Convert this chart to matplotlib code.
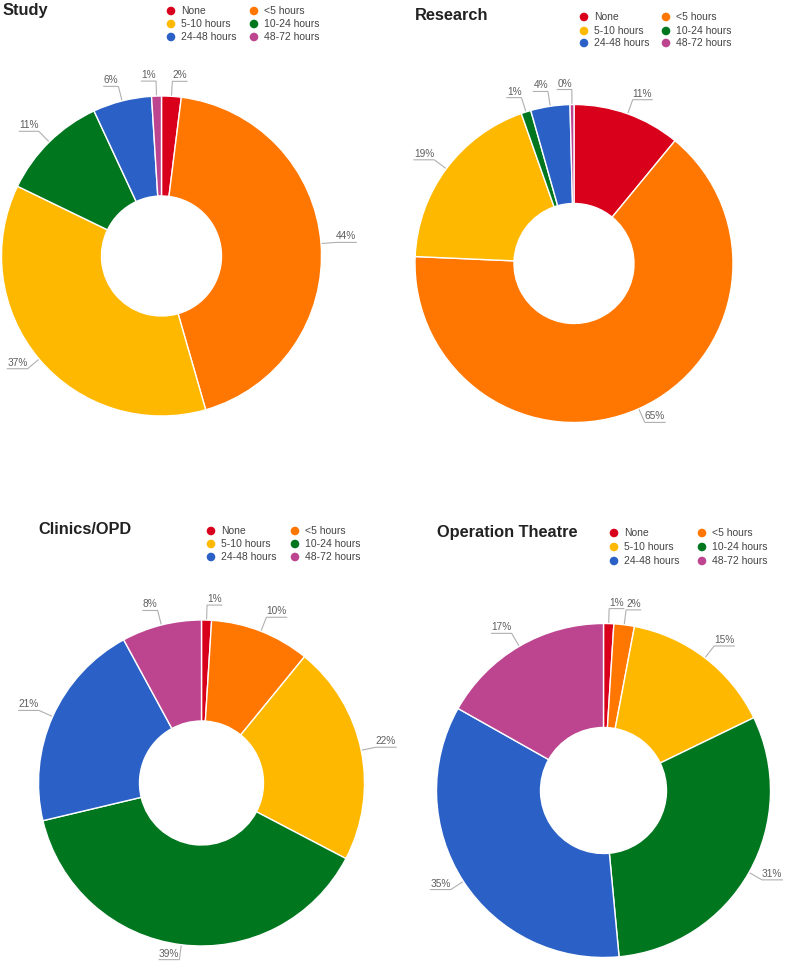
import matplotlib
matplotlib.use("Agg")
import matplotlib.pyplot as plt
import numpy as np

categories = ["None", "<5 hours", "5-10 hours", "10-24 hours", "24-48 hours", "48-72 hours"]
colors = ["#d9001b", "#ff7600", "#ffb800", "#00761f", "#2b61c6", "#bd4590"]

titles = ["Study", "Research", "Clinics/OPD", "Operation Theatre"]
study = [2, 44, 37, 11, 6, 1]
research = [11, 65, 19, 1, 4, 0.4]
clinics = [1, 10, 22, 39, 21, 8]
theatre = [1, 2, 15, 31, 35, 17]
series = [study, research, clinics, theatre]

W, H = 790, 965
plt.rcParams['font.family'] = ['Liberation Sans', 'DejaVu Sans']

fig = plt.figure(figsize=(W / 100, H / 100), dpi=100)
ax = fig.add_axes([0, 0, 1, 1])


def Y(y):
    return H - y

# layout per panel (pixel coords, y from top)
layouts = [
    dict(c=(161.5, 256), r=160, hole=60, title=(3, 11),
         lx=(171, 254), ly=(11, 24, 37)),
    dict(c=(574, 263.5), r=159, hole=60, title=(415, 16),
         lx=(584, 666), ly=(17, 31, 43)),
    dict(c=(201.5, 783), r=163, hole=62, title=(38, 529),
         lx=(211, 295), ly=(531, 544, 557)),
    dict(c=(603.5, 790.5), r=167, hole=63, title=(437, 532),
         lx=(614, 702), ly=(533, 547, 561)),
]

renderer = fig.canvas.get_renderer()
label_color = "#5f5f5f"
line_color = "#b0b0b0"

for title, vals, L in zip(titles, series, layouts):
    cx, cy = L["c"][0], Y(L["c"][1])
    r = L["r"]
    wedges, _ = ax.pie(vals, colors=colors, startangle=90, counterclock=False,
                       center=(cx, cy), radius=r,
                       wedgeprops=dict(width=r - L["hole"], edgecolor="white", linewidth=1.0))
    total = sum(vals)
    d = 15
    for w, v in zip(wedges, vals):
        ang = np.deg2rad((w.theta1 + w.theta2) / 2)
        dx, dy = np.cos(ang), np.sin(ang)
        p0 = (cx + r * dx, cy + r * dy)
        p1 = (cx + (r + d) * dx, cy + (r + d) * dy)
        side = 1 if dx >= 0 else -1
        lab = f"{v:.0f}%"
        t = ax.text(p1[0], p1[1] + 1, lab, fontsize=7.3, color=label_color,
                    ha="left" if side > 0 else "right", va="bottom")
        tw = t.get_window_extent(renderer).width
        p2 = (p1[0] + side * tw, p1[1])
        ax.plot([p0[0], p1[0], p2[0]], [p0[1], p1[1], p2[1]], color=line_color,
                lw=0.8, solid_joinstyle="miter", zorder=0.5)
    # title
    ax.text(L["title"][0], Y(L["title"][1]), title, fontsize=11.8, fontweight="bold",
            color="#222222", ha="left", va="center")
    # legend
    for i, (cat, col) in enumerate(zip(categories, colors)):
        colx = L["lx"][i % 2]
        rowy = Y(L["ly"][i // 2])
        ax.add_patch(plt.Circle((colx, rowy), 4.3, color=col, lw=0))
        ax.text(colx + 10, rowy, cat, fontsize=7.5, color="#444444", ha="left", va="center")

ax.set_xlim(0, W)
ax.set_ylim(0, H)
ax.set_aspect("auto")
ax.axis("off")
fig.savefig("out.png", dpi=100, facecolor="white")
